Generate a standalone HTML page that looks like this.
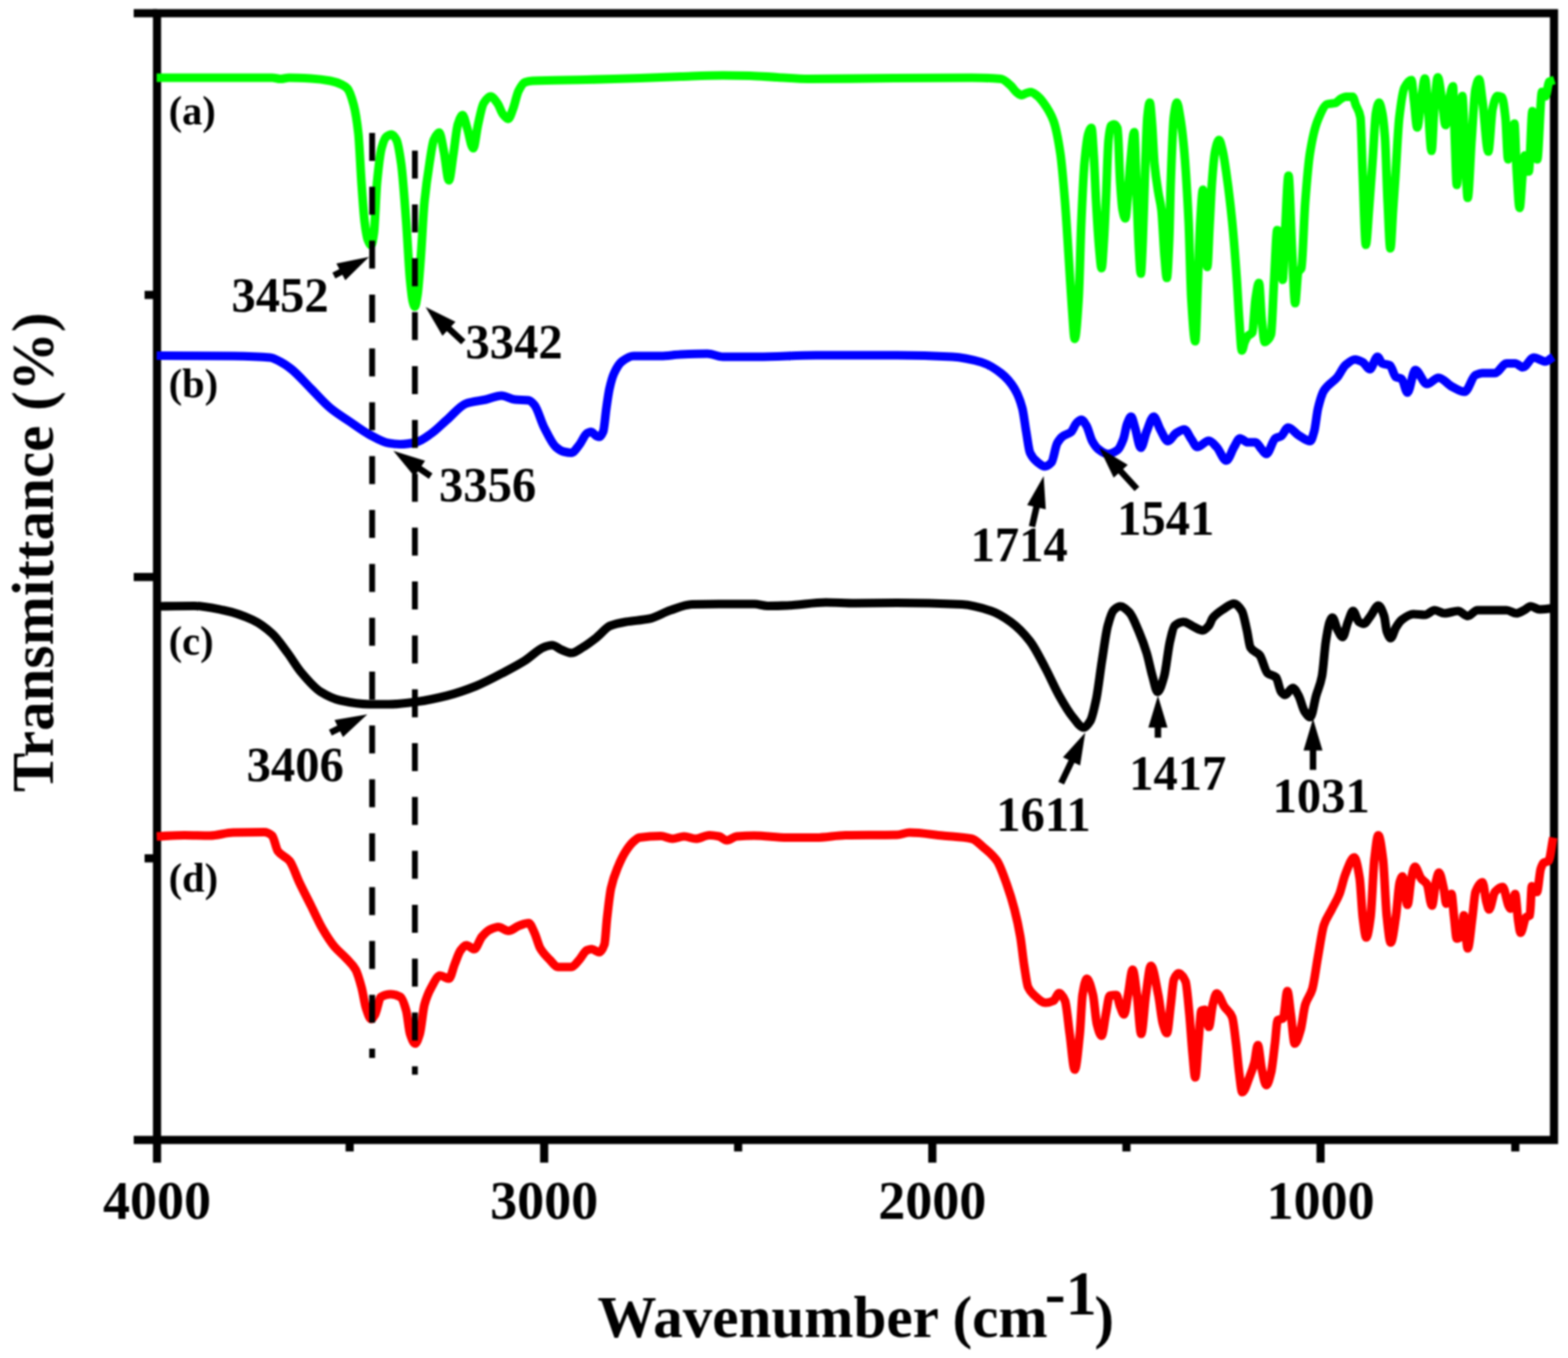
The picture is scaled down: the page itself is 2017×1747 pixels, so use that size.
<!DOCTYPE html>
<html lang="en"><head><meta charset="utf-8"><title>FTIR spectra</title>
<style>
html,body{margin:0;padding:0;background:#fff;}
body{width:2017px;height:1747px;overflow:hidden;font-family:"Liberation Serif",serif;}
svg{display:block;filter:blur(0.9px);}
</style></head><body>
<svg width="2017" height="1747" viewBox="0 0 2017 1747">
<rect width="2017" height="1747" fill="#fff"/>
<rect x="202" y="17" width="1797" height="1449.5" fill="none" stroke="#000" stroke-width="10.5"/>
<g stroke="#000" stroke-width="10.5"><line x1="172" y1="17" x2="202" y2="17"/><line x1="172" y1="742.3" x2="202" y2="742.3"/><line x1="172" y1="1466.5" x2="202" y2="1466.5"/><line x1="186" y1="379.4" x2="202" y2="379.4"/><line x1="186" y1="1104.2" x2="202" y2="1104.2"/><line x1="202.0" y1="1466" x2="202.0" y2="1495.7"/><line x1="700.0" y1="1466" x2="700.0" y2="1495.7"/><line x1="1199.3" y1="1466" x2="1199.3" y2="1495.7"/><line x1="1698.7" y1="1466" x2="1698.7" y2="1495.7"/><line x1="449.8" y1="1466" x2="449.8" y2="1481.3"/><line x1="949.5" y1="1466" x2="949.5" y2="1481.3"/><line x1="1449.0" y1="1466" x2="1449.0" y2="1481.3"/><line x1="1949.2" y1="1466" x2="1949.2" y2="1481.3"/></g>
<path d="M201.5,100.0C234.3,100.0 267.2,100.0 300.0,100.0C316.7,100.0 333.3,100.0 350.0,100.0C353.7,100.0 357.3,101.5 361.0,101.5C364.7,101.5 368.3,100.0 372.0,100.0C381.3,100.0 390.7,100.5 400.0,101.0C408.3,101.5 416.7,102.5 425.0,104.0C430.0,104.9 435.0,106.6 440.0,109.0C442.3,110.1 444.7,111.4 447.0,114.0C449.7,117.0 452.3,125.0 455.0,135.0C457.0,142.5 459.0,153.7 461.0,172.0C462.3,184.2 463.7,216.4 465.0,235.0C466.3,253.6 467.7,274.5 469.0,285.0C470.3,295.5 471.7,304.5 473.0,308.0C474.5,311.9 476.0,315.5 477.5,315.5C478.7,315.5 479.8,308.0 481.0,300.0C482.3,290.8 483.7,249.0 485.0,235.0C487.0,214.0 489.0,197.1 491.0,190.0C493.0,182.9 495.0,177.5 497.0,176.0C499.2,174.3 501.5,173.0 503.7,173.0C505.8,173.0 507.9,176.2 510.0,180.0C512.0,183.7 514.0,196.1 516.0,210.0C518.2,225.0 520.3,256.6 522.5,285.0C524.2,306.9 525.8,342.9 527.5,360.0C528.7,372.0 529.8,383.8 531.0,388.0C531.9,391.3 532.8,394.5 533.7,394.5C534.8,394.5 535.9,386.9 537.0,380.0C538.3,371.7 539.7,352.1 541.0,335.0C542.7,313.7 544.3,277.2 546.0,260.0C548.2,237.7 550.3,223.8 552.5,210.0C554.3,198.4 556.2,184.1 558.0,180.0C560.3,174.8 562.7,170.5 565.0,170.5C567.0,170.5 569.0,185.5 571.0,195.0C573.2,205.3 575.3,232.0 577.5,232.0C579.3,232.0 581.2,211.4 583.0,200.0C585.0,187.6 587.0,166.2 589.0,160.0C591.0,153.8 593.0,148.0 595.0,148.0C597.0,148.0 599.0,158.9 601.0,165.0C603.6,172.8 606.1,190.7 608.7,190.7C610.8,190.7 612.9,169.1 615.0,160.0C617.3,149.9 619.7,136.8 622.0,133.0C625.0,128.1 628.0,124.0 631.0,124.0C634.0,124.0 637.0,128.9 640.0,133.0C642.3,136.2 644.7,144.1 647.0,147.0C649.2,149.8 651.5,153.0 653.7,153.0C655.8,153.0 657.9,145.3 660.0,140.0C662.3,134.1 664.7,121.6 667.0,117.0C669.7,111.8 672.3,107.0 675.0,106.0C678.3,104.8 681.7,104.2 685.0,104.0C708.0,102.9 731.0,103.1 754.0,102.5C777.3,101.9 800.7,101.3 824.0,100.5C841.3,99.9 858.7,99.1 876.0,98.5C894.0,97.9 912.0,97.0 930.0,97.0C941.7,97.0 953.3,97.2 965.0,97.5C976.7,97.8 988.3,98.9 1000.0,99.5C1013.3,100.2 1026.7,101.5 1040.0,101.5C1076.7,101.5 1113.3,100.7 1150.0,100.5C1183.3,100.3 1216.7,100.0 1250.0,100.0C1262.5,100.0 1275.0,100.4 1287.5,101.5C1291.7,101.9 1295.8,106.4 1300.0,110.0C1302.7,112.3 1305.3,117.0 1308.0,119.0C1310.0,120.5 1312.0,122.5 1314.0,122.5C1316.0,122.5 1318.0,120.6 1320.0,120.0C1322.0,119.4 1324.0,118.5 1326.0,118.5C1328.7,118.5 1331.3,121.0 1334.0,123.0C1336.8,125.1 1339.7,128.6 1342.5,132.5C1346.7,138.2 1350.8,143.9 1355.0,155.0C1358.0,163.0 1361.0,177.5 1364.0,197.5C1366.0,210.8 1368.0,235.3 1370.0,260.0C1371.7,280.6 1373.3,309.6 1375.0,335.0C1376.3,355.3 1377.7,379.8 1379.0,397.0C1380.2,412.1 1381.3,436.0 1382.5,436.0C1384.2,436.0 1385.8,410.8 1387.5,385.0C1388.7,367.0 1389.8,311.5 1391.0,285.0C1392.3,254.7 1393.7,224.7 1395.0,210.0C1396.7,191.7 1398.3,176.9 1400.0,172.0C1401.3,168.1 1402.7,164.5 1404.0,164.5C1405.0,164.5 1406.0,185.1 1407.0,200.0C1408.0,214.9 1409.0,242.7 1410.0,260.0C1411.3,283.0 1412.7,305.9 1414.0,320.0C1415.0,330.6 1416.0,345.0 1417.0,345.0C1418.0,345.0 1419.0,324.9 1420.0,310.0C1420.8,297.6 1421.7,277.7 1422.5,260.0C1423.7,235.2 1424.8,190.9 1426.0,180.0C1427.0,170.6 1428.0,163.0 1429.0,162.0C1430.3,160.7 1431.7,160.0 1433.0,160.0C1434.5,160.0 1436.0,161.7 1437.5,165.0C1438.7,167.6 1439.8,217.9 1441.0,235.0C1442.0,249.6 1443.0,265.0 1444.0,270.0C1445.2,275.9 1446.3,281.0 1447.5,281.0C1448.7,281.0 1449.8,262.5 1451.0,250.0C1452.0,239.3 1453.0,220.2 1454.0,210.0C1455.7,193.0 1457.3,170.0 1459.0,170.0C1460.2,170.0 1461.3,231.1 1462.5,260.0C1463.3,280.7 1464.2,306.1 1465.0,320.0C1465.8,333.9 1466.7,352.0 1467.5,352.0C1468.3,352.0 1469.2,327.9 1470.0,310.0C1470.8,292.1 1471.7,257.5 1472.5,235.0C1473.7,203.5 1474.8,161.1 1476.0,150.0C1477.0,140.5 1478.0,132.0 1479.0,132.0C1480.0,132.0 1481.0,148.0 1482.0,160.0C1483.0,172.0 1484.0,199.3 1485.0,210.0C1486.7,227.8 1488.3,236.8 1490.0,247.5C1491.3,256.0 1492.7,259.1 1494.0,270.0C1495.3,280.9 1496.7,315.0 1498.0,330.0C1499.0,341.2 1500.0,357.5 1501.0,357.5C1502.0,357.5 1503.0,332.9 1504.0,310.0C1504.7,294.7 1505.3,253.7 1506.0,235.0C1507.3,197.7 1508.7,159.9 1510.0,150.0C1511.3,140.1 1512.7,132.0 1514.0,132.0C1515.3,132.0 1516.7,142.4 1518.0,150.0C1519.5,158.5 1521.0,169.8 1522.5,185.0C1524.7,206.9 1526.8,240.3 1529.0,285.0C1530.2,309.1 1531.3,366.2 1532.5,385.0C1534.2,411.8 1535.8,439.0 1537.5,439.0C1538.7,439.0 1539.8,387.7 1541.0,360.0C1542.0,336.2 1543.0,301.1 1544.0,285.0C1545.2,266.2 1546.3,244.0 1547.5,244.0C1548.5,244.0 1549.5,272.0 1550.5,290.0C1551.3,305.0 1552.2,343.5 1553.0,343.5C1554.0,343.5 1555.0,308.1 1556.0,290.0C1557.0,271.9 1558.0,248.1 1559.0,235.0C1560.3,217.5 1561.7,201.3 1563.0,195.0C1564.7,187.2 1566.3,180.0 1568.0,180.0C1569.7,180.0 1571.3,188.3 1573.0,195.0C1574.5,201.1 1576.0,212.1 1577.5,222.5C1580.0,239.9 1582.5,259.8 1585.0,285.0C1587.0,305.1 1589.0,331.0 1591.0,360.0C1592.0,374.5 1593.0,396.2 1594.0,410.0C1595.2,426.1 1596.3,451.0 1597.5,451.0C1598.7,451.0 1599.8,442.8 1601.0,440.0C1602.3,436.9 1603.7,434.1 1605.0,432.5C1607.0,430.1 1609.0,430.8 1611.0,427.5C1612.3,425.3 1613.7,393.7 1615.0,385.0C1616.5,375.2 1618.0,364.0 1619.5,364.0C1620.7,364.0 1621.8,398.8 1623.0,410.0C1624.3,422.8 1625.7,440.0 1627.0,440.0C1628.3,440.0 1629.7,438.4 1631.0,437.0C1632.3,435.6 1633.7,434.2 1635.0,430.0C1636.3,425.8 1637.7,382.3 1639.0,360.0C1640.3,337.7 1641.7,296.0 1643.0,296.0C1644.2,296.0 1645.3,297.5 1646.5,300.0C1647.7,302.5 1648.8,360.0 1650.0,360.0C1651.0,360.0 1652.0,318.2 1653.0,300.0C1654.5,272.7 1656.0,226.0 1657.5,226.0C1659.0,226.0 1660.5,291.5 1662.0,320.0C1663.3,345.3 1664.7,390.0 1666.0,390.0C1667.3,390.0 1668.7,353.0 1670.0,350.0C1671.3,347.0 1672.7,348.0 1674.0,345.0C1675.7,341.2 1677.3,281.7 1679.0,260.0C1681.0,234.0 1683.0,210.0 1685.0,197.5C1688.3,176.6 1691.7,163.2 1695.0,155.0C1699.2,144.8 1703.3,135.1 1707.5,134.0C1710.8,133.1 1714.2,133.4 1717.5,132.5C1720.0,131.9 1722.5,128.3 1725.0,127.0C1727.0,125.9 1729.0,124.5 1731.0,124.5C1734.0,124.5 1737.0,124.5 1740.0,124.5C1741.3,124.5 1742.7,131.5 1744.0,135.0C1746.0,140.3 1748.0,140.4 1750.0,151.0C1751.0,156.3 1752.0,203.4 1753.0,227.0C1754.3,258.5 1755.7,315.0 1757.0,315.0C1758.3,315.0 1759.7,286.4 1761.0,270.0C1762.7,249.5 1764.3,224.7 1766.0,201.5C1767.3,182.9 1768.7,152.0 1770.0,145.0C1771.3,138.0 1772.7,132.0 1774.0,132.0C1775.3,132.0 1776.7,138.6 1778.0,145.0C1779.2,150.6 1780.3,160.9 1781.5,176.0C1782.7,191.1 1783.8,236.8 1785.0,260.0C1786.2,283.2 1787.3,319.5 1788.5,319.5C1789.7,319.5 1790.8,286.6 1792.0,270.0C1793.0,255.8 1794.0,241.7 1795.0,227.0C1796.7,202.5 1798.3,165.4 1800.0,151.0C1802.2,132.3 1804.3,117.2 1806.5,113.0C1809.5,107.2 1812.5,103.0 1815.5,103.0C1816.7,103.0 1817.8,120.6 1819.0,130.0C1820.3,140.8 1821.7,164.0 1823.0,164.0C1824.7,164.0 1826.3,140.4 1828.0,130.0C1829.7,119.6 1831.3,101.0 1833.0,101.0C1834.3,101.0 1835.7,125.7 1837.0,140.0C1838.5,156.1 1840.0,194.0 1841.5,194.0C1842.7,194.0 1843.8,153.4 1845.0,140.0C1846.5,122.8 1848.0,99.5 1849.5,99.5C1851.3,99.5 1853.2,118.7 1855.0,130.0C1856.5,139.3 1858.0,161.0 1859.5,161.0C1861.0,161.0 1862.5,137.4 1864.0,130.0C1865.7,121.8 1867.3,111.0 1869.0,111.0C1869.8,111.0 1870.7,159.0 1871.5,180.0C1872.3,201.0 1873.2,238.0 1874.0,238.0C1875.2,238.0 1876.3,199.1 1877.5,180.0C1878.7,160.9 1879.8,123.5 1881.0,123.5C1882.2,123.5 1883.3,168.2 1884.5,190.0C1885.7,211.8 1886.8,254.5 1888.0,254.5C1889.7,254.5 1891.3,203.1 1893.0,180.0C1894.7,156.9 1896.3,122.8 1898.0,115.0C1899.5,108.0 1901.0,102.0 1902.5,102.0C1904.0,102.0 1905.5,119.3 1907.0,130.0C1909.5,147.9 1912.0,195.0 1914.5,195.0C1916.3,195.0 1918.2,148.0 1920.0,140.0C1922.0,131.3 1924.0,123.5 1926.0,123.5C1928.0,123.5 1930.0,124.0 1932.0,125.0C1933.5,125.8 1935.0,138.1 1936.5,151.0C1937.7,161.0 1938.8,205.0 1940.0,205.0C1941.3,205.0 1942.7,182.0 1944.0,175.0C1945.3,168.0 1946.7,159.0 1948.0,159.0C1949.0,159.0 1950.0,204.4 1951.0,220.0C1952.3,239.8 1953.5,267.5 1954.8,267.5C1956.0,267.5 1957.3,236.8 1958.5,225.0C1959.5,215.4 1960.5,200.0 1961.5,200.0C1963.2,200.0 1964.8,220.7 1966.5,220.7C1968.1,220.7 1969.7,143.0 1971.3,143.0C1973.3,143.0 1975.4,205.0 1977.4,205.0C1979.5,205.0 1981.5,118.4 1983.6,118.4C1985.1,118.4 1986.5,124.0 1988.0,124.0C1989.7,124.0 1991.3,106.0 1993.0,105.0C1995.2,103.7 1997.3,103.7 1999.5,103.0" fill="none" stroke="#00ff00" stroke-width="11.1" stroke-linejoin="round" stroke-linecap="butt"/>
<path d="M201.5,457.5C234.3,457.7 267.2,457.7 300.0,458.0C315.8,458.2 331.7,458.6 347.5,460.0C351.7,460.4 355.8,462.9 360.0,465.0C365.0,467.5 370.0,471.1 375.0,475.0C383.3,481.6 391.7,491.7 400.0,500.0C408.3,508.3 416.7,518.1 425.0,525.0C433.3,531.9 441.7,536.8 450.0,542.5C458.3,548.2 466.7,554.6 475.0,559.0C483.3,563.4 491.7,568.7 500.0,570.0C505.0,570.8 510.0,571.5 515.0,571.5C521.7,571.5 528.3,570.4 535.0,569.0C541.7,567.6 548.3,562.1 555.0,557.5C561.7,552.9 568.3,545.7 575.0,540.0C583.3,532.9 591.7,521.7 600.0,519.0C608.3,516.3 616.7,515.9 625.0,514.0C631.7,512.5 638.3,509.0 645.0,509.0C650.8,509.0 656.7,513.4 662.5,514.0C668.3,514.6 674.2,514.3 680.0,515.0C682.5,515.3 685.0,518.1 687.5,521.0C691.7,525.8 695.8,541.9 700.0,550.0C705.0,559.7 710.0,570.7 715.0,575.0C718.3,577.9 721.7,580.2 725.0,581.0C728.3,581.8 731.7,582.5 735.0,582.5C738.3,582.5 741.7,576.5 745.0,572.5C748.3,568.5 751.7,559.5 755.0,557.5C756.7,556.5 758.3,555.5 760.0,555.5C762.5,555.5 765.0,560.0 767.5,561.0C768.7,561.5 769.8,562.0 771.0,562.0C772.7,562.0 774.3,559.0 776.0,555.0C777.3,551.8 778.7,534.1 780.0,525.0C781.3,515.9 782.7,505.9 784.0,500.0C786.0,491.1 788.0,484.3 790.0,480.0C793.3,472.9 796.7,467.5 800.0,465.0C805.0,461.3 810.0,458.0 815.0,458.0C826.7,458.0 838.3,458.0 850.0,458.0C858.3,458.0 866.7,456.4 875.0,456.0C886.7,455.5 898.3,455.0 910.0,455.0C916.7,455.0 923.3,459.0 930.0,459.0C945.0,459.0 960.0,459.0 975.0,459.0C1000.0,459.0 1025.0,457.0 1050.0,457.0C1084.7,457.0 1119.3,457.0 1154.0,457.0C1177.7,457.0 1201.3,457.7 1225.0,459.0C1237.5,459.7 1250.0,462.4 1262.5,466.0C1270.8,468.4 1279.2,473.6 1287.5,480.0C1293.3,484.5 1299.2,490.5 1305.0,500.0C1308.3,505.4 1311.7,512.7 1315.0,525.0C1316.7,531.2 1318.3,545.4 1320.0,555.0C1321.7,564.6 1323.3,578.8 1325.0,582.5C1328.3,589.8 1331.7,592.5 1335.0,595.0C1338.0,597.3 1341.0,600.0 1344.0,600.0C1346.8,600.0 1349.7,597.9 1352.5,595.0C1355.0,592.5 1357.5,574.4 1360.0,570.0C1362.5,565.6 1365.0,562.8 1367.5,561.0C1370.8,558.6 1374.2,558.6 1377.5,556.0C1380.0,554.0 1382.5,546.3 1385.0,544.0C1387.0,542.1 1389.0,540.0 1391.0,540.0C1393.2,540.0 1395.3,544.0 1397.5,547.5C1400.0,551.5 1402.5,563.1 1405.0,567.5C1407.5,571.9 1410.0,575.6 1412.5,577.5C1416.7,580.7 1420.8,584.0 1425.0,584.0C1429.2,584.0 1433.3,581.9 1437.5,579.0C1440.0,577.3 1442.5,571.5 1445.0,565.0C1446.7,560.7 1448.3,549.1 1450.0,545.0C1451.7,540.9 1453.3,536.0 1455.0,536.0C1456.7,536.0 1458.3,544.9 1460.0,550.0C1462.5,557.7 1465.0,576.0 1467.5,576.0C1470.0,576.0 1472.5,561.0 1475.0,555.0C1478.0,547.7 1481.0,536.0 1484.0,536.0C1486.8,536.0 1489.7,547.7 1492.5,552.5C1495.8,558.2 1499.2,567.5 1502.5,567.5C1505.8,567.5 1509.2,559.6 1512.5,557.5C1516.2,555.2 1519.8,552.5 1523.5,552.5C1526.5,552.5 1529.5,560.9 1532.5,565.0C1535.0,568.4 1537.5,575.0 1540.0,575.0C1545.0,575.0 1550.0,567.0 1555.0,567.0C1558.3,567.0 1561.7,571.6 1565.0,575.0C1569.2,579.2 1573.3,592.5 1577.5,592.5C1580.8,592.5 1584.2,580.3 1587.5,575.0C1590.0,571.0 1592.5,564.0 1595.0,564.0C1598.3,564.0 1601.7,569.0 1605.0,569.0C1608.3,569.0 1611.7,569.0 1615.0,569.0C1617.5,569.0 1620.0,574.8 1622.5,577.5C1624.7,579.8 1626.8,584.0 1629.0,584.0C1632.8,584.0 1636.7,566.4 1640.5,564.0C1643.0,562.4 1645.5,562.5 1648.0,561.0C1651.0,559.2 1654.0,550.0 1657.0,550.0C1661.5,550.0 1666.0,557.3 1670.5,560.0C1675.5,563.0 1680.5,567.5 1685.5,567.5C1687.2,567.5 1688.8,560.9 1690.5,555.0C1692.2,549.1 1693.8,531.8 1695.5,525.0C1698.0,514.8 1700.5,506.5 1703.0,502.5C1708.8,493.1 1714.7,492.1 1720.5,485.0C1723.8,480.9 1727.2,472.9 1730.5,470.0C1734.7,466.4 1738.8,462.5 1743.0,462.5C1746.3,462.5 1749.7,464.3 1753.0,466.0C1756.0,467.6 1759.0,475.0 1762.0,475.0C1765.3,475.0 1768.7,459.0 1772.0,459.0C1774.0,459.0 1776.0,466.6 1778.0,467.5C1781.3,469.0 1784.7,468.5 1788.0,470.0C1790.5,471.2 1793.0,483.6 1795.5,485.0C1798.0,486.4 1800.5,486.0 1803.0,487.5C1805.5,489.0 1808.0,505.0 1810.5,505.0C1813.8,505.0 1817.2,476.0 1820.5,476.0C1825.5,476.0 1830.5,494.0 1835.5,494.0C1840.5,494.0 1845.5,486.0 1850.5,486.0C1856.3,486.0 1862.2,494.6 1868.0,497.5C1873.3,500.2 1878.7,504.0 1884.0,504.0C1888.7,504.0 1893.3,484.6 1898.0,482.5C1901.0,481.2 1904.0,480.0 1907.0,480.0C1912.3,480.0 1917.7,480.0 1923.0,480.0C1928.0,480.0 1933.0,467.5 1938.0,467.5C1941.7,467.5 1945.3,467.5 1949.0,467.5C1952.3,467.5 1955.7,472.5 1959.0,472.5C1963.7,472.5 1968.3,460.0 1973.0,460.0C1978.0,460.0 1983.0,465.0 1988.0,465.0C1991.3,465.0 1994.7,461.0 1998.0,459.0" fill="none" stroke="#0000ff" stroke-width="11.1" stroke-linejoin="round" stroke-linecap="butt"/>
<path d="M201.5,780.0C217.7,779.8 233.8,779.5 250.0,779.5C262.5,779.5 275.0,782.5 287.5,785.0C300.0,787.5 312.5,791.7 325.0,797.5C333.3,801.4 341.7,807.4 350.0,815.0C356.7,821.0 363.3,831.1 370.0,840.0C375.8,847.8 381.7,858.1 387.5,865.0C395.8,874.9 404.2,884.9 412.5,890.0C420.8,895.1 429.2,899.2 437.5,901.0C450.0,903.7 462.5,906.0 475.0,906.0C483.3,906.0 491.7,906.0 500.0,906.0C512.5,906.0 525.0,904.1 537.5,902.5C550.0,900.9 562.5,898.1 575.0,895.0C587.5,891.9 600.0,887.5 612.5,882.5C625.0,877.5 637.5,870.6 650.0,864.0C658.3,859.6 666.7,855.2 675.0,850.0C683.3,844.8 691.7,835.4 700.0,832.5C703.3,831.3 706.7,830.0 710.0,830.0C714.2,830.0 718.3,834.4 722.5,836.0C726.7,837.6 730.8,840.0 735.0,840.0C740.0,840.0 745.0,835.4 750.0,832.5C755.8,829.1 761.7,824.5 767.5,820.0C773.3,815.5 779.2,807.3 785.0,805.0C791.7,802.4 798.3,801.2 805.0,800.0C815.0,798.2 825.0,798.0 835.0,796.0C844.2,794.2 853.3,788.0 862.5,785.0C871.7,782.0 880.8,777.8 890.0,777.5C901.7,777.2 913.3,777.0 925.0,777.0C940.0,777.0 955.0,777.0 970.0,777.0C975.8,777.0 981.7,779.5 987.5,779.5C995.8,779.5 1004.2,779.2 1012.5,779.0C1029.2,778.5 1045.8,775.0 1062.5,775.0C1075.0,775.0 1087.5,776.0 1100.0,776.0C1118.0,776.0 1136.0,775.5 1154.0,775.5C1181.8,775.5 1209.7,776.2 1237.5,777.5C1250.0,778.1 1262.5,781.8 1275.0,786.0C1283.3,788.8 1291.7,794.0 1300.0,800.0C1308.3,806.0 1316.7,814.3 1325.0,825.0C1331.7,833.6 1338.3,847.5 1345.0,860.0C1350.8,870.9 1356.7,884.7 1362.5,895.0C1368.3,905.3 1374.2,915.6 1380.0,922.5C1384.7,928.0 1389.3,936.0 1394.0,936.0C1396.8,936.0 1399.7,932.0 1402.5,927.5C1405.0,923.5 1407.5,911.8 1410.0,900.0C1412.5,888.2 1415.0,865.8 1417.5,850.0C1420.0,834.2 1422.5,814.2 1425.0,805.0C1427.5,795.8 1430.0,787.4 1432.5,785.0C1435.3,782.2 1438.2,780.0 1441.0,780.0C1444.8,780.0 1448.7,783.8 1452.5,787.5C1456.7,791.6 1460.8,802.8 1465.0,812.5C1468.3,820.3 1471.7,829.0 1475.0,840.0C1477.5,848.2 1480.0,861.3 1482.5,870.0C1484.7,877.5 1486.8,890.0 1489.0,890.0C1491.8,890.0 1494.7,879.7 1497.5,870.0C1500.0,861.5 1502.5,835.6 1505.0,825.0C1507.0,816.5 1509.0,806.7 1511.0,805.0C1514.8,801.8 1518.7,800.0 1522.5,800.0C1526.7,800.0 1530.8,804.1 1535.0,806.0C1539.0,807.8 1543.0,811.0 1547.0,811.0C1549.7,811.0 1552.3,808.0 1555.0,805.0C1556.7,803.1 1558.3,797.1 1560.0,795.0C1564.7,789.2 1569.3,786.5 1574.0,783.5C1578.5,780.6 1583.0,776.5 1587.5,776.5C1590.8,776.5 1594.2,780.7 1597.5,786.0C1599.7,789.4 1601.8,801.6 1604.0,811.0C1605.5,817.5 1607.0,830.6 1608.5,833.0C1612.5,839.4 1616.5,838.0 1620.5,843.0C1623.8,847.1 1627.2,863.2 1630.5,866.0C1634.2,869.0 1637.8,868.2 1641.5,871.5C1643.7,873.5 1645.8,887.4 1648.0,890.0C1649.7,892.0 1651.3,894.0 1653.0,894.0C1656.3,894.0 1659.7,885.0 1663.0,885.0C1665.5,885.0 1668.0,890.6 1670.5,895.0C1673.0,899.4 1675.5,911.4 1678.0,915.0C1680.5,918.6 1683.0,922.5 1685.5,922.5C1688.0,922.5 1690.5,903.7 1693.0,895.0C1695.5,886.3 1698.0,882.5 1700.5,870.0C1702.2,861.6 1703.8,835.7 1705.5,825.0C1707.2,814.3 1708.8,803.9 1710.5,800.0C1711.7,797.3 1712.8,794.5 1714.0,794.5C1716.2,794.5 1718.3,806.1 1720.5,810.0C1722.7,813.9 1724.8,819.5 1727.0,819.5C1729.3,819.5 1731.7,805.7 1734.0,800.0C1736.2,794.7 1738.3,786.0 1740.5,786.0C1743.0,786.0 1745.5,798.3 1748.0,800.0C1750.0,801.3 1752.0,802.5 1754.0,802.5C1757.0,802.5 1760.0,796.2 1763.0,792.5C1766.3,788.4 1769.7,779.0 1773.0,779.0C1775.5,779.0 1778.0,785.2 1780.5,792.5C1781.7,795.9 1782.8,809.3 1784.0,812.5C1785.7,817.0 1787.3,821.0 1789.0,821.0C1791.2,821.0 1793.3,811.0 1795.5,807.5C1798.0,803.4 1800.5,799.4 1803.0,797.5C1808.0,793.7 1813.0,790.0 1818.0,790.0C1823.0,790.0 1828.0,791.0 1833.0,791.0C1837.2,791.0 1841.3,785.0 1845.5,785.0C1849.7,785.0 1853.8,789.0 1858.0,789.0C1863.8,789.0 1869.7,786.0 1875.5,786.0C1879.7,786.0 1883.8,792.5 1888.0,792.5C1892.2,792.5 1896.3,785.0 1900.5,785.0C1913.0,785.0 1925.5,785.0 1938.0,785.0C1942.2,785.0 1946.3,789.0 1950.5,789.0C1953.8,789.0 1957.2,786.6 1960.5,785.0C1963.3,783.6 1966.2,780.0 1969.0,780.0C1972.8,780.0 1976.7,784.0 1980.5,784.0C1986.3,784.0 1992.2,783.0 1998.0,782.5" fill="none" stroke="#000000" stroke-width="11.1" stroke-linejoin="round" stroke-linecap="butt"/>
<path d="M201.5,1076.0C213.5,1075.5 225.5,1074.5 237.5,1074.5C248.3,1074.5 259.2,1075.0 270.0,1075.0C280.0,1075.0 290.0,1071.2 300.0,1071.0C313.3,1070.7 326.7,1070.5 340.0,1070.5C343.3,1070.5 346.7,1072.3 350.0,1075.0C352.5,1077.0 355.0,1091.6 357.5,1095.0C362.5,1101.7 367.5,1101.4 372.5,1107.5C376.7,1112.6 380.8,1126.3 385.0,1135.0C390.0,1145.5 395.0,1155.0 400.0,1165.0C405.0,1175.0 410.0,1186.4 415.0,1195.0C420.0,1203.6 425.0,1211.5 430.0,1217.5C435.0,1223.5 440.0,1227.0 445.0,1232.5C449.2,1237.1 453.3,1240.1 457.5,1247.5C460.0,1251.9 462.5,1260.9 465.0,1270.0C467.0,1277.3 469.0,1291.8 471.0,1297.5C473.2,1303.7 475.3,1311.0 477.5,1311.0C479.2,1311.0 480.8,1307.8 482.5,1305.0C485.0,1300.8 487.5,1283.9 490.0,1282.5C494.2,1280.2 498.3,1279.0 502.5,1279.0C506.7,1279.0 510.8,1280.3 515.0,1282.5C517.5,1283.8 520.0,1291.3 522.5,1300.0C524.2,1305.8 525.8,1325.0 527.5,1330.0C529.7,1336.5 531.8,1342.5 534.0,1342.5C536.0,1342.5 538.0,1336.2 540.0,1330.0C542.0,1323.8 544.0,1299.9 546.0,1292.5C549.0,1281.5 552.0,1275.3 555.0,1270.0C558.7,1263.5 562.3,1255.0 566.0,1255.0C569.8,1255.0 573.7,1259.0 577.5,1259.0C580.0,1259.0 582.5,1246.1 585.0,1240.0C587.5,1233.9 590.0,1225.7 592.5,1222.5C595.0,1219.3 597.5,1216.0 600.0,1216.0C603.3,1216.0 606.7,1221.0 610.0,1221.0C613.3,1221.0 616.7,1208.8 620.0,1205.0C623.3,1201.2 626.7,1197.6 630.0,1196.0C633.7,1194.3 637.3,1192.5 641.0,1192.5C645.3,1192.5 649.7,1197.5 654.0,1197.5C658.5,1197.5 663.0,1192.6 667.5,1191.0C671.7,1189.5 675.8,1187.5 680.0,1187.5C682.5,1187.5 685.0,1194.9 687.5,1200.0C690.0,1205.1 692.5,1215.7 695.0,1220.0C699.2,1227.1 703.3,1230.7 707.5,1235.0C710.8,1238.4 714.2,1244.0 717.5,1244.0C723.3,1244.0 729.2,1244.0 735.0,1244.0C738.3,1244.0 741.7,1238.5 745.0,1235.0C748.3,1231.5 751.7,1223.8 755.0,1222.5C757.0,1221.7 759.0,1221.0 761.0,1221.0C764.3,1221.0 767.7,1225.0 771.0,1225.0C773.2,1225.0 775.3,1221.2 777.5,1215.0C778.7,1211.6 779.8,1190.1 781.0,1180.0C782.7,1165.6 784.3,1150.0 786.0,1142.5C789.0,1128.9 792.0,1122.3 795.0,1115.0C798.3,1106.9 801.7,1100.1 805.0,1095.0C808.3,1089.9 811.7,1085.4 815.0,1082.5C817.5,1080.4 820.0,1077.9 822.5,1077.5C831.7,1076.1 840.8,1075.5 850.0,1075.5C855.0,1075.5 860.0,1079.0 865.0,1079.0C870.0,1079.0 875.0,1076.0 880.0,1076.0C885.0,1076.0 890.0,1079.0 895.0,1079.0C900.8,1079.0 906.7,1074.5 912.5,1074.5C916.7,1074.5 920.8,1075.2 925.0,1076.0C928.3,1076.7 931.7,1081.0 935.0,1081.0C939.2,1081.0 943.3,1076.4 947.5,1076.0C955.0,1075.4 962.5,1075.0 970.0,1075.0C984.2,1075.0 998.3,1077.5 1012.5,1077.5C1025.0,1077.5 1037.5,1077.5 1050.0,1077.5C1062.5,1077.5 1075.0,1074.7 1087.5,1074.5C1109.7,1074.2 1131.8,1074.4 1154.0,1074.0C1159.3,1073.9 1164.7,1071.0 1170.0,1071.0C1184.2,1071.0 1198.3,1073.6 1212.5,1075.0C1225.0,1076.3 1237.5,1076.4 1250.0,1079.0C1255.0,1080.0 1260.0,1085.8 1265.0,1090.0C1270.8,1094.9 1276.7,1099.1 1282.5,1107.5C1286.7,1113.5 1290.8,1125.9 1295.0,1137.5C1298.3,1146.8 1301.7,1157.1 1305.0,1170.0C1307.5,1179.7 1310.0,1190.4 1312.5,1205.0C1314.2,1214.7 1315.8,1231.9 1317.5,1242.5C1319.2,1253.1 1320.8,1266.3 1322.5,1270.0C1325.0,1275.6 1327.5,1277.7 1330.0,1280.0C1335.0,1284.6 1340.0,1290.0 1345.0,1290.0C1348.3,1290.0 1351.7,1289.0 1355.0,1287.5C1357.5,1286.4 1360.0,1277.5 1362.5,1277.5C1365.0,1277.5 1367.5,1281.7 1370.0,1287.5C1372.0,1292.1 1374.0,1315.8 1376.0,1330.0C1378.2,1345.3 1380.3,1376.0 1382.5,1376.0C1384.7,1376.0 1386.8,1351.2 1389.0,1330.0C1390.2,1318.6 1391.3,1287.3 1392.5,1280.0C1394.3,1268.5 1396.2,1259.0 1398.0,1259.0C1400.7,1259.0 1403.3,1269.2 1406.0,1280.0C1407.7,1286.7 1409.3,1311.2 1411.0,1317.5C1413.0,1325.1 1415.0,1332.5 1417.0,1332.5C1418.8,1332.5 1420.7,1314.0 1422.5,1305.0C1424.2,1296.8 1425.8,1281.4 1427.5,1281.0C1430.3,1280.3 1433.2,1280.0 1436.0,1280.0C1437.7,1280.0 1439.3,1291.0 1441.0,1295.0C1442.7,1299.0 1444.3,1305.0 1446.0,1305.0C1447.7,1305.0 1449.3,1288.7 1451.0,1280.0C1453.0,1269.6 1455.0,1247.5 1457.0,1247.5C1458.8,1247.5 1460.7,1266.9 1462.5,1280.0C1464.3,1293.1 1466.2,1330.0 1468.0,1330.0C1470.0,1330.0 1472.0,1293.7 1474.0,1280.0C1476.2,1265.2 1478.3,1242.5 1480.5,1242.5C1483.7,1242.5 1486.8,1264.4 1490.0,1280.0C1492.0,1289.8 1494.0,1310.9 1496.0,1317.5C1497.7,1323.0 1499.3,1329.0 1501.0,1329.0C1502.7,1329.0 1504.3,1305.3 1506.0,1292.5C1507.3,1282.2 1508.7,1263.2 1510.0,1260.0C1512.0,1255.2 1514.0,1252.0 1516.0,1252.0C1519.0,1252.0 1522.0,1255.9 1525.0,1262.5C1526.7,1266.2 1528.3,1288.0 1530.0,1305.0C1531.3,1318.6 1532.7,1341.2 1534.0,1355.0C1535.2,1367.1 1536.3,1386.0 1537.5,1386.0C1538.8,1386.0 1540.2,1356.8 1541.5,1342.5C1542.8,1328.2 1544.2,1300.6 1545.5,1300.0C1547.0,1299.3 1548.5,1299.0 1550.0,1299.0C1551.7,1299.0 1553.3,1321.0 1555.0,1321.0C1556.7,1321.0 1558.3,1298.9 1560.0,1292.5C1561.7,1286.1 1563.3,1278.0 1565.0,1278.0C1568.3,1278.0 1571.7,1290.0 1575.0,1295.0C1578.3,1300.0 1581.7,1300.4 1585.0,1308.5C1586.7,1312.6 1588.3,1329.3 1590.0,1342.5C1591.3,1353.1 1592.7,1370.0 1594.0,1380.0C1595.3,1390.0 1596.7,1405.0 1598.0,1405.0C1601.2,1405.0 1604.3,1392.8 1607.5,1385.0C1609.5,1380.0 1611.5,1375.0 1613.5,1367.5C1615.0,1361.9 1616.5,1344.5 1618.0,1344.5C1619.7,1344.5 1621.3,1367.5 1623.0,1375.0C1625.0,1384.0 1627.0,1396.0 1629.0,1396.0C1631.0,1396.0 1633.0,1388.0 1635.0,1380.0C1636.7,1373.3 1638.3,1355.9 1640.0,1342.5C1641.2,1333.1 1642.3,1313.4 1643.5,1312.5C1645.8,1310.7 1648.2,1311.6 1650.5,1310.0C1652.3,1308.7 1654.2,1275.0 1656.0,1275.0C1657.5,1275.0 1659.0,1294.4 1660.5,1305.0C1662.2,1316.8 1663.8,1342.5 1665.5,1342.5C1668.0,1342.5 1670.5,1333.3 1673.0,1325.0C1675.0,1318.4 1677.0,1299.0 1679.0,1292.5C1682.0,1282.8 1685.0,1282.2 1688.0,1272.5C1690.5,1264.4 1693.0,1243.7 1695.5,1230.0C1698.0,1216.3 1700.5,1197.4 1703.0,1190.0C1706.3,1180.1 1709.7,1176.7 1713.0,1170.0C1716.3,1163.3 1719.7,1158.4 1723.0,1150.0C1725.5,1143.7 1728.0,1131.2 1730.5,1125.0C1734.3,1115.5 1738.2,1103.0 1742.0,1103.0C1744.3,1103.0 1746.7,1115.6 1749.0,1130.0C1750.3,1138.3 1751.7,1169.4 1753.0,1180.0C1754.5,1191.9 1756.0,1206.0 1757.5,1206.0C1759.3,1206.0 1761.2,1193.3 1763.0,1180.0C1764.7,1167.9 1766.3,1119.5 1768.0,1105.0C1769.7,1090.5 1771.3,1074.5 1773.0,1074.5C1775.0,1074.5 1777.0,1089.6 1779.0,1105.0C1780.7,1117.8 1782.3,1164.9 1784.0,1180.0C1785.7,1195.1 1787.3,1212.5 1789.0,1212.5C1791.2,1212.5 1793.3,1194.1 1795.5,1180.0C1797.2,1169.2 1798.8,1140.6 1800.5,1135.0C1801.7,1131.1 1802.8,1127.5 1804.0,1127.5C1806.2,1127.5 1808.3,1164.0 1810.5,1164.0C1812.2,1164.0 1813.8,1137.4 1815.5,1130.0C1817.0,1123.3 1818.5,1115.0 1820.0,1115.0C1822.7,1115.0 1825.3,1126.5 1828.0,1130.0C1830.5,1133.3 1833.0,1133.4 1835.5,1137.5C1837.7,1141.1 1839.8,1165.0 1842.0,1165.0C1843.7,1165.0 1845.3,1141.8 1847.0,1135.0C1848.3,1129.6 1849.7,1122.5 1851.0,1122.5C1853.0,1122.5 1855.0,1133.9 1857.0,1142.5C1858.2,1147.5 1859.3,1162.5 1860.5,1162.5C1862.7,1162.5 1864.8,1150.0 1867.0,1150.0C1868.2,1150.0 1869.3,1170.4 1870.5,1180.0C1871.7,1189.6 1872.8,1207.5 1874.0,1207.5C1876.2,1207.5 1878.3,1206.0 1880.5,1202.5C1881.3,1201.1 1882.2,1177.5 1883.0,1177.5C1884.7,1177.5 1886.3,1220.0 1888.0,1220.0C1890.0,1220.0 1892.0,1194.7 1894.0,1180.0C1895.3,1170.2 1896.7,1151.0 1898.0,1147.5C1901.0,1139.7 1904.0,1135.0 1907.0,1135.0C1908.7,1135.0 1910.3,1154.0 1912.0,1160.0C1913.2,1164.2 1914.3,1170.0 1915.5,1170.0C1918.0,1170.0 1920.5,1150.3 1923.0,1147.5C1926.3,1143.8 1929.7,1141.0 1933.0,1141.0C1935.5,1141.0 1938.0,1159.9 1940.5,1165.0C1941.3,1166.7 1942.2,1169.0 1943.0,1169.0C1945.0,1169.0 1947.0,1150.0 1949.0,1150.0C1950.3,1150.0 1951.7,1176.6 1953.0,1185.0C1954.0,1191.3 1955.0,1200.0 1956.0,1200.0C1958.3,1200.0 1960.7,1181.9 1963.0,1180.0C1964.7,1178.6 1966.3,1179.3 1968.0,1177.5C1968.8,1176.6 1969.7,1140.0 1970.5,1140.0C1972.7,1140.0 1974.8,1147.5 1977.0,1147.5C1978.7,1147.5 1980.3,1122.6 1982.0,1117.5C1983.2,1113.9 1984.3,1110.8 1985.5,1110.0C1987.7,1108.5 1989.8,1109.1 1992.0,1107.5C1994.0,1106.1 1996.0,1087.5 1998.0,1077.5" fill="none" stroke="#ff0000" stroke-width="11.1" stroke-linejoin="round" stroke-linecap="butt"/>
<line x1="478.7" y1="171" x2="478.7" y2="1361" stroke="#000" stroke-width="7.5" stroke-dasharray="36 33.3"/>
<line x1="533.7" y1="193.7" x2="533.7" y2="1382.5" stroke="#000" stroke-width="7.5" stroke-dasharray="36 33.3"/>
<path d="M474.7,330.5L432.7,338.9L444.2,360.5Z" fill="#000"/><line x1="440.3" y1="348.8" x2="429.5" y2="354.5" stroke="#000" stroke-width="8.3"/>
<path d="M547.5,395.0L569.2,431.9L585.9,413.9Z" fill="#000"/><line x1="576.1" y1="421.5" x2="596.0" y2="440.0" stroke="#000" stroke-width="8.3"/>
<path d="M506.0,580.0L533.1,613.1L546.8,592.8Z" fill="#000"/><line x1="538.3" y1="601.9" x2="554.0" y2="612.5" stroke="#000" stroke-width="8.3"/>
<path d="M1342.5,612.5L1321.3,649.7L1345.2,655.2Z" fill="#000"/><line x1="1333.7" y1="650.5" x2="1327.5" y2="677.5" stroke="#000" stroke-width="8.3"/>
<path d="M1414.0,576.0L1432.6,614.5L1450.7,598.0Z" fill="#000"/><line x1="1440.3" y1="604.8" x2="1462.5" y2="629.0" stroke="#000" stroke-width="8.3"/>
<path d="M472.5,919.0L430.3,926.2L441.2,948.2Z" fill="#000"/><line x1="437.5" y1="936.3" x2="425.0" y2="942.5" stroke="#000" stroke-width="8.3"/>
<path d="M1396.0,942.5L1367.3,974.2L1389.4,984.8Z" fill="#000"/><line x1="1379.2" y1="977.7" x2="1365.0" y2="1007.5" stroke="#000" stroke-width="8.3"/>
<path d="M1489.5,895.0L1477.2,936.0L1501.8,936.0Z" fill="#000"/><line x1="1489.5" y1="934.0" x2="1489.5" y2="949.0" stroke="#000" stroke-width="8.3"/>
<path d="M1689.0,924.5L1676.8,965.5L1701.2,965.5Z" fill="#000"/><line x1="1689.0" y1="963.5" x2="1689.0" y2="990.4" stroke="#000" stroke-width="8.3"/>
<g font-family="'Liberation Serif', serif" font-weight="bold" fill="#000"><text x="202.0" y="1567.5" font-size="69.5" text-anchor="middle">4000</text><text x="700.0" y="1567.5" font-size="69.5" text-anchor="middle">3000</text><text x="1199.3" y="1567.5" font-size="69.5" text-anchor="middle">2000</text><text x="1698.7" y="1567.5" font-size="69.5" text-anchor="middle">1000</text><text x="768.5" y="1720" font-size="76">Wavenumber (cm<tspan dx="-3.5" dy="-29" font-size="80">-1</tspan><tspan dx="-3" dy="29">)</tspan></text><text transform="translate(68,1019) rotate(-90)" font-size="76">Transmittance (%)</text><text x="217" y="160" font-size="52">(a)</text><text x="217" y="511" font-size="52">(b)</text><text x="217" y="842" font-size="52">(c)</text><text x="217" y="1147" font-size="52">(d)</text><text x="297.8" y="401.4" font-size="62.5">3452</text><text x="598.8" y="461.2" font-size="62.5">3342</text><text x="564.7" y="644.8" font-size="62.5">3356</text><text x="1248.4" y="722.3" font-size="62.5">1714</text><text x="1437.1" y="688.1" font-size="62.5">1541</text><text x="317.2" y="1004.7" font-size="62.5">3406</text><text x="1281.5" y="1069.4" font-size="62.5">1611</text><text x="1452.4" y="1015.8" font-size="62.5">1417</text><text x="1637.0" y="1045.3" font-size="62.5">1031</text></g>
</svg>
</body></html>
